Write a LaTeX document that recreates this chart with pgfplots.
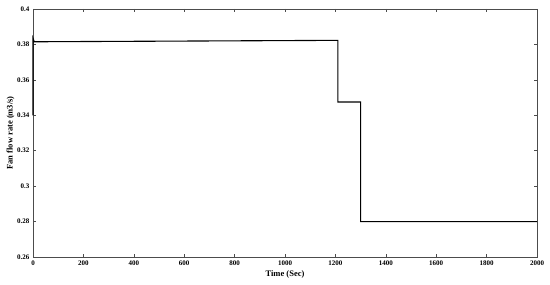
\documentclass[border=0pt]{standalone}
\usepackage{fontspec}
\setmainfont{Liberation Serif}
\usepackage{pgfplots}
\pgfplotsset{compat=1.18}
\usetikzlibrary{calc}
\begin{document}
\begin{tikzpicture}
\begin{axis}[
  scale only axis, width=504pt, height=248pt,
  xmin=0, xmax=2000, ymin=0.26, ymax=0.4,
  xtick={0,200,...,2000},
  ytick={0.26,0.28,...,0.4},
  tick align=inside, tick pos=both,
  major tick length=3pt,
  axis line style={draw=black!70, line width=0.6pt},
  tick style={draw=black!70, line width=0.5pt},
  ticklabel style={font=\bfseries\fontsize{7}{8}\selectfont},
  /pgf/number format/assume math mode=true,
  /pgf/number format/fixed,
  /pgf/number format/1000 sep={},
  xlabel={Time (Sec)}, ylabel={Fan flow rate (m3/s)},
  label style={font=\bfseries\fontsize{8.5}{9}\selectfont},
  xlabel shift=-2pt, ylabel shift=-4pt,
  clip=false,
]
\addplot[black, line width=1.1pt] coordinates {
(0,0.340) (0,0.3835) (5,0.3815) (1210,0.3823) (1210,0.3475)
(1300,0.3475) (1300,0.280) (2000,0.280)};
\end{axis}
\useasboundingbox ($(current axis.south west)+(-33pt,-28pt)$) rectangle ($(current axis.north east)+(13pt,9pt)$);
\end{tikzpicture}
\end{document}
